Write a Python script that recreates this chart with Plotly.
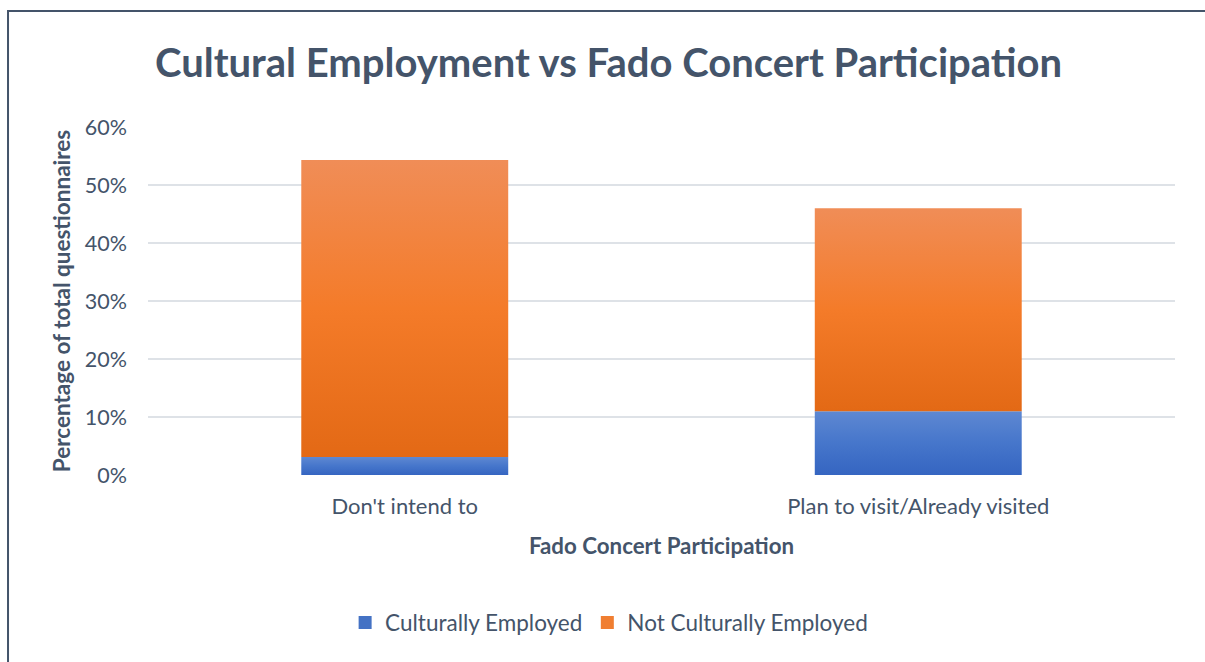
import plotly.graph_objects as go

categories = ["Don't intend to", "Plan to visit/Already visited"]
culturally_employed = [0.031, 0.110]
not_culturally_employed = [0.512, 0.350]
y_ticks = [0, 0.1, 0.2, 0.3, 0.4, 0.5, 0.6]

TEXT = "#44546A"
FONT = "Lato"
HALF_W = 0.2015

blue_scale = [[0, "#3565C1"], [0.5, "#4676CB"], [1, "#5E88D2"]]
orange_scale = [[0, "#E36915"], [0.5, "#F47B29"], [1, "#F08D57"]]

fig = go.Figure()


def add_segment(i, base, height, scale):
    x0, x1 = i - HALF_W, i + HALF_W
    top = base + height
    fig.add_trace(go.Scatter(
        x=[x0, x1, x1, x0, x0],
        y=[base, base, top, top, base],
        mode="lines",
        line=dict(width=0),
        fill="toself",
        fillgradient=dict(type="vertical", colorscale=scale),
        showlegend=False,
        hoverinfo="skip",
    ))


for i in range(len(categories)):
    add_segment(i, 0, culturally_employed[i], blue_scale)
    add_segment(i, culturally_employed[i], not_culturally_employed[i], orange_scale)

# legend entries
fig.add_trace(go.Scatter(x=[None], y=[None], mode="markers", name="Culturally Employed",
                         marker=dict(symbol="square", size=13, color="#4472C4")))
fig.add_trace(go.Scatter(x=[None], y=[None], mode="markers", name="Not Culturally Employed",
                         marker=dict(symbol="square", size=13, color="#F07E31")))

fig.update_layout(
    width=1205, height=662,
    margin=dict(l=148, r=30, t=127, b=187),
    paper_bgcolor="white", plot_bgcolor="white",
    font=dict(family=FONT, color=TEXT, size=21),
    title=dict(text="<b>Cultural Employment vs Fado Concert Participation</b>",
               x=0.505, xanchor="center", y=0.905, yanchor="middle",
               font=dict(family=FONT, size=40, color=TEXT)),
    xaxis=dict(
        range=[-0.5, 1.5], tickmode="array", tickvals=list(range(len(categories))),
        ticktext=categories, showgrid=False, zeroline=False, ticks="",
        ticklabelstandoff=16, tickfont=dict(size=22, color=TEXT),
        title=dict(text="<b>Fado Concert Participation</b>", font=dict(size=22.3, color=TEXT), standoff=20),
        fixedrange=True,
    ),
    yaxis=dict(
        range=[0, 0.6], tickmode="array", tickvals=y_ticks, tickformat=".0%",
        showgrid=True, gridcolor="#DEE2E7", gridwidth=1.5, zeroline=False, ticks="",
        ticklabelstandoff=20, tickfont=dict(size=21.5, color=TEXT),
        title=dict(text="<b>Percentage of total questionnaires</b>", font=dict(size=22.5, color=TEXT), standoff=7),
        fixedrange=True,
    ),
    showlegend=True,
    legend=dict(orientation="h", x=0.449, xanchor="center", y=-0.425, yanchor="middle",
                font=dict(size=22.5, color=TEXT), itemwidth=30),
    shapes=[dict(type="path", xref="paper", yref="paper",
                 path="M -0.1363,-0.7 L -0.1363,1.3333 L 1.1,1.3333",
                 line=dict(color=TEXT, width=2))],
)

fig.write_html("out.html")
